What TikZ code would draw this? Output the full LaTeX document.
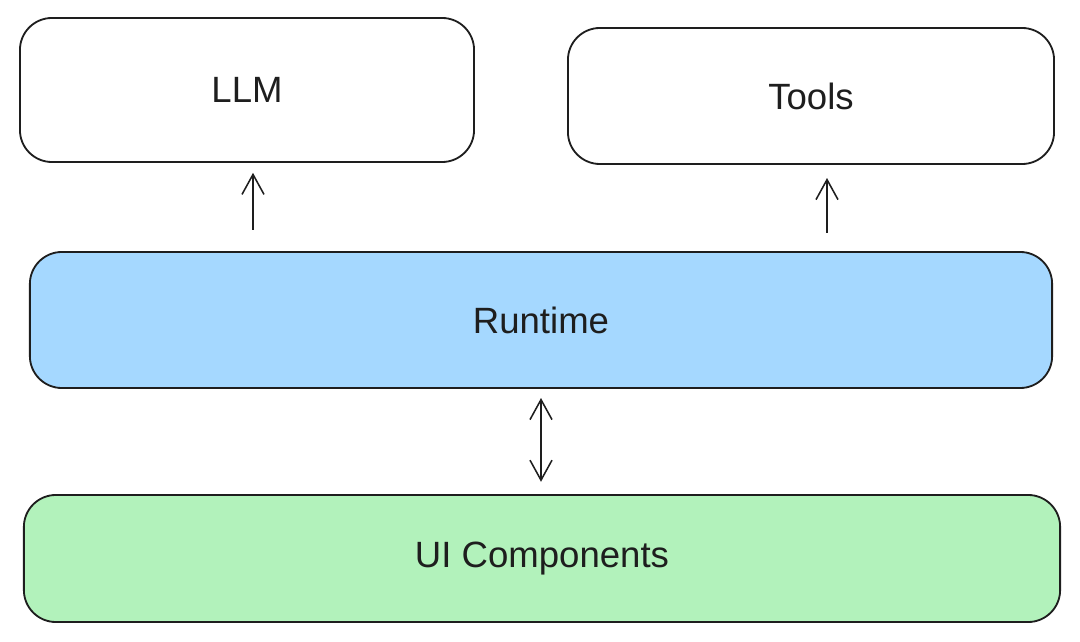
\documentclass[tikz,border=0pt]{standalone}
\usepackage{fontspec}
\setmainfont{Liberation Sans}
\usepackage{xcolor}
\usetikzlibrary{arrows.meta}

\definecolor{ink}{HTML}{1E1E1E}
\definecolor{runblue}{HTML}{A5D8FF}
\definecolor{uigreen}{HTML}{B2F2BB}

\begin{document}
\begin{tikzpicture}[x=0.025cm,y=-0.025cm,
  box/.style={draw=ink, line width=1.3pt, rounded corners=0.8cm, inner sep=0pt, outer sep=0pt,
    font=\fontsize{26}{30}\selectfont, text=ink},
  link/.style={draw=ink, line width=1pt, -{Straight Barb[length=5mm,width=5.5mm,line width=1.1pt]}},
  twoway/.style={link, {Straight Barb[length=5mm,width=5.5mm,line width=1.1pt]}-{Straight Barb[length=5mm,width=5.5mm,line width=1.1pt]}}]
\useasboundingbox (0,0) rectangle (1080,642);

% Boites du haut
\node[box, minimum width=11.35cm, minimum height=3.6cm] (llm) at (247,90) {LLM};
\node[box, minimum width=12.15cm, minimum height=3.4cm] (tools) at (811,96) {Tools};

% Runtime
\node[box, fill=runblue, minimum width=25.55cm, minimum height=3.4cm] (runtime) at (541,320) {Runtime};

% Composants UI
\node[box, fill=uigreen, minimum width=25.9cm, minimum height=3.175cm] (ui) at (542,558.5) {UI Components};

% Fleches
\draw[link, shorten <=0.55cm, shorten >=0.27cm] ([xshift=0.15cm]llm.south |- runtime.north) -- ([xshift=0.15cm]llm.south);
\draw[link, shorten <=0.48cm, shorten >=0.35cm] ([xshift=0.4cm]tools.south |- runtime.north) -- ([xshift=0.4cm]tools.south);
\draw[twoway, shorten <=0.25cm, shorten >=0.33cm] (runtime.south) -- (runtime.south |- ui.north);

\end{tikzpicture}
\end{document}
